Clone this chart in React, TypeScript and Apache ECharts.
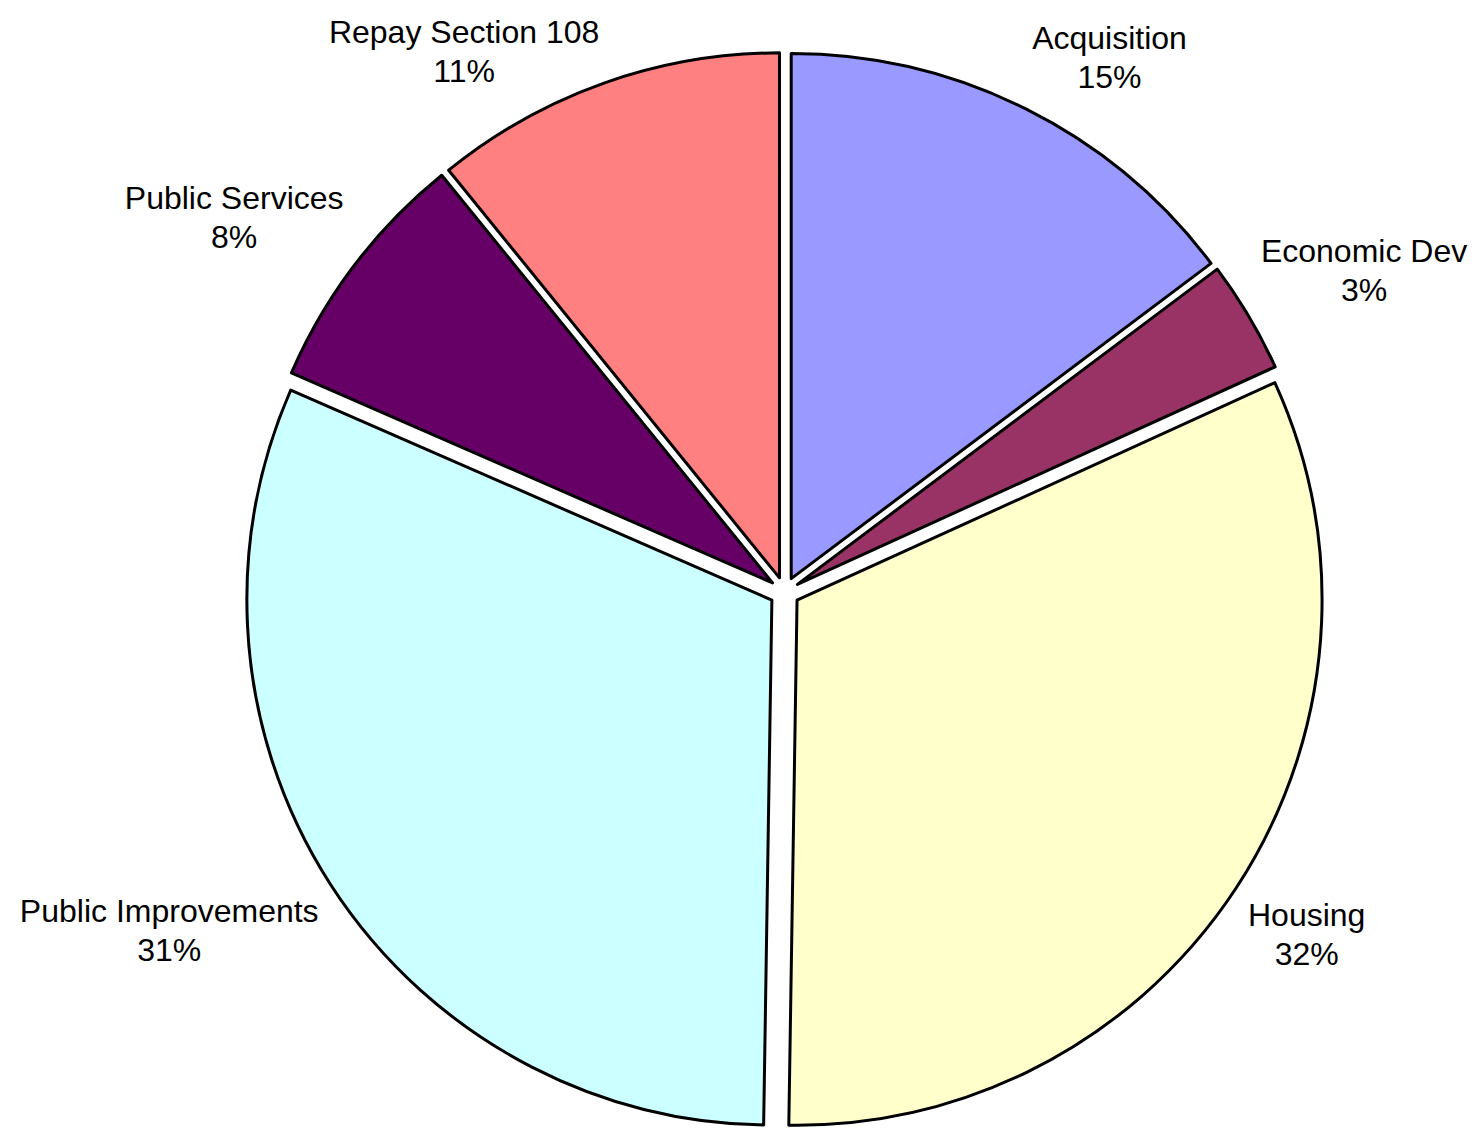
import React, { useEffect, useRef } from "react";
import * as echarts from "echarts";

const categories = [
  "Acquisition",
  "Economic Dev",
  "Housing",
  "Public Improvements",
  "Public Services",
  "Repay Section 108",
];
const values = [14.75, 3.45, 32.05, 31.3, 7.6, 10.85];
const colors = ["#9999FF", "#993366", "#FFFFCC", "#CCFFFF", "#660066", "#FF8080"];

const W = 1482;
const H = 1128;
const CX = 784.5;
const CY = 592;
const R = 525;
const OFFSET = 15;
const LABEL_DIST = 554;
const FONT_SIZE = 32;
const LINE_H = 39;
const FONT_FAMILY = "'Liberation Sans', Arial, sans-serif";
const TOP_MARGIN = 12;

export default function App() {
  const ref = useRef<HTMLDivElement>(null);
  useEffect(() => {
    if (!ref.current) return;
    const chart = echarts.init(ref.current, null, { renderer: "svg" });
    const total = values.reduce((a, b) => a + b, 0);

    const canvas = document.createElement("canvas");
    const ctx = canvas.getContext("2d")!;
    ctx.font = `${FONT_SIZE}px ${FONT_FAMILY}`;

    const labels: any[] = [];
    let acc = 0;
    values.forEach((v, i) => {
      const a = ((acc + v / 2) / total) * Math.PI * 2;
      acc += v;
      const pct = Math.round((v / total) * 100) + "%";
      const text = categories[i] + "\n" + pct;
      const w = Math.max(ctx.measureText(categories[i]).width, ctx.measureText(pct).width) / 2;
      const h = LINE_H;
      const s = Math.sin(a);
      const c = Math.cos(a);
      const x = CX + LABEL_DIST * s + Math.sign(s) * w;
      let y = CY - LABEL_DIST * c - Math.sign(c) * h;
      if (y - h < TOP_MARGIN) y = TOP_MARGIN + h;
      labels.push({
        type: "text",
        x,
        y,
        silent: true,
        style: {
          text,
          fill: "#000000",
          font: `${FONT_SIZE}px ${FONT_FAMILY}`,
          lineHeight: LINE_H,
          align: "center",
          verticalAlign: "middle",
        },
      });
    });

    chart.setOption({
      animation: false,
      backgroundColor: "#ffffff",
      graphic: labels,
      series: [
        {
          type: "pie",
          center: [CX, CY],
          radius: [0, R],
          startAngle: 90,
          clockwise: true,
          selectedMode: "multiple",
          selectedOffset: OFFSET,
          emphasis: { disabled: true },
          itemStyle: { borderColor: "#000000", borderWidth: 3 },
          label: { show: false },
          labelLine: { show: false },
          data: categories.map((name, i) => ({
            name,
            value: values[i],
            selected: true,
            itemStyle: { color: colors[i] },
            select: { itemStyle: { color: colors[i], borderColor: "#000000", borderWidth: 3 } },
          })),
        },
      ],
    });
    return () => chart.dispose();
  }, []);
  return (
    <div
      ref={ref}
      style={{ position: "fixed", left: 0, top: 0, width: W, height: H }}
    />
  );
}
